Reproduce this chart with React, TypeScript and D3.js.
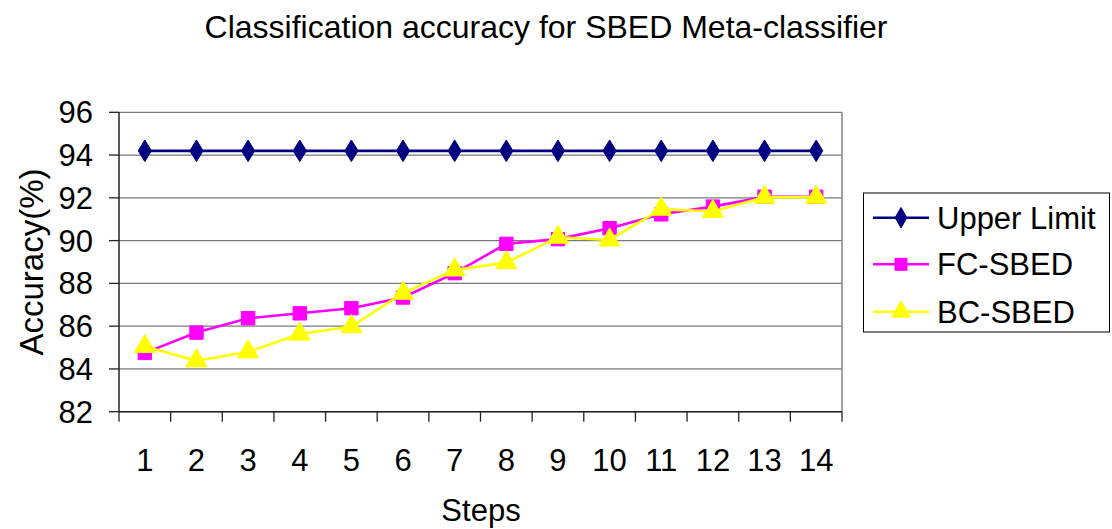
import React from "react";
import * as d3 from "d3";

// Accuracy (%) per selection step
const steps = [1, 2, 3, 4, 5, 6, 7, 8, 9, 10, 11, 12, 13, 14];
const upperLimit = [94.2, 94.2, 94.2, 94.2, 94.2, 94.2, 94.2, 94.2, 94.2, 94.2, 94.2, 94.2, 94.2, 94.2];
const fcSbed = [84.75, 85.7, 86.37, 86.6, 86.84, 87.34, 88.48, 89.85, 90.07, 90.58, 91.23, 91.59, 92.05, 92.05];
const bcSbed = [85.05, 84.38, 84.8, 85.63, 85.98, 87.54, 88.63, 88.97, 90.16, 90.03, 91.47, 91.36, 92.03, 92.03];
const yTicks = [82, 84, 86, 88, 90, 92, 94, 96];

const seriesNames = ["Upper Limit", "FC-SBED", "BC-SBED"];
const seriesColors = ["#000080", "#FF00FF", "#FFFF00"];
const seriesSymbols = [d3.symbolDiamond, d3.symbolSquare, d3.symbolTriangle];

const W = 1112;
const H = 529;
const plot = { left: 119, right: 842, top: 112.3, bottom: 411.7 };
const FONT = "'Liberation Sans', Arial, Helvetica, sans-serif";

function Txt({ x, y, size, anchor = "start", children, rotate = 0 }: any) {
  const tf = rotate ? `translate(${x},${y}) rotate(${rotate})` : `translate(${x},${y})`;
  return (
    <text transform={tf} fontFamily={FONT} fontSize={size} textAnchor={anchor} fill="#000">
      {children}
    </text>
  );
}

export default function App() {
  const x = d3.scaleBand<number>().domain(steps).range([plot.left, plot.right]);
  const y = d3.scaleLinear().domain([82, 96]).range([plot.bottom, plot.top]);
  const cx = (s: number) => (x(s) as number) + x.bandwidth() / 2;

  const line = d3
    .line<number>()
    .x((_, i) => cx(steps[i]))
    .y((v) => y(v));

  const data = [upperLimit, fcSbed, bcSbed];
  const symSizes = [150, 180, 190];
  const sym = (i: number) => d3.symbol().type(seriesSymbols[i]).size(symSizes[i])() as string;

  const boundaries = steps.map((s) => x(s) as number).concat([plot.right]);

  const legend = { x: 863.5, y: 193, w: 246, h: 139 };
  const legendRows = [217.7, 264.3, 311.7];

  return (
    <svg width={W} height={H} style={{ position: "absolute", left: 0, top: 0 }}>
      <rect width={W} height={H} fill="#fff" />

      {/* title */}
      <Txt x={546} y={38} size={32} anchor="middle">
        Classification accuracy for SBED Meta-classifier
      </Txt>

      {/* grid lines */}
      {yTicks.map((t) => (
        <line key={t} x1={plot.left} x2={plot.right} y1={y(t)} y2={y(t)} stroke="#7a7a7a" strokeWidth={1.3} />
      ))}
      {/* plot border (right) */}
      <line x1={plot.right} x2={plot.right} y1={plot.top} y2={plot.bottom} stroke="#8c8c8c" strokeWidth={1.6} />

      {/* axes */}
      <line x1={plot.left} x2={plot.left} y1={plot.top} y2={plot.bottom} stroke="#222" strokeWidth={1.5} />
      <line x1={plot.left} x2={plot.right} y1={plot.bottom} y2={plot.bottom} stroke="#222" strokeWidth={1.5} />
      {yTicks.map((t) => (
        <line key={"yt" + t} x1={plot.left - 10} x2={plot.left} y1={y(t)} y2={y(t)} stroke="#222" strokeWidth={1.3} />
      ))}
      {boundaries.map((b, i) => (
        <line key={"xt" + i} x1={b} x2={b} y1={plot.bottom} y2={plot.bottom + 10} stroke="#222" strokeWidth={1.3} />
      ))}

      {/* tick labels */}
      {yTicks.map((t) => (
        <Txt key={"yl" + t} x={93} y={y(t) + 11} size={31} anchor="end">
          {t}
        </Txt>
      ))}
      {steps.map((s) => (
        <Txt key={"xl" + s} x={cx(s)} y={471} size={31} anchor="middle">
          {s}
        </Txt>
      ))}

      {/* axis titles */}
      <Txt x={481} y={521} size={31} anchor="middle">
        Steps
      </Txt>
      <Txt x={43} y={262} size={33} anchor="middle" rotate={-90}>
        Accuracy(%)
      </Txt>

      {/* series */}
      {data.map((vals, i) => (
        <g key={seriesNames[i]}>
          <path d={line(vals) as string} fill="none" stroke={seriesColors[i]} strokeWidth={i === 0 ? 2.8 : 2.6} />
          {vals.map((v, j) => (
            <path
              key={j}
              d={sym(i)}
              transform={`translate(${cx(steps[j])},${y(v)})${i === 0 ? " scale(1,0.95)" : ""}`}
              fill={seriesColors[i]}
              stroke={seriesColors[i]}
              strokeWidth={1}
            />
          ))}
        </g>
      ))}

      {/* legend */}
      <rect x={legend.x} y={legend.y} width={legend.w} height={legend.h} fill="#fff" stroke="#000" strokeWidth={1} />
      {seriesNames.map((n, i) => (
        <g key={"lg" + n}>
          <line x1={873} x2={929} y1={legendRows[i]} y2={legendRows[i]} stroke={seriesColors[i]} strokeWidth={2.6} />
          <path
            d={d3.symbol().type(seriesSymbols[i]).size(symSizes[i] * 0.8)() as string}
            transform={`translate(901,${legendRows[i]})`}
            fill={seriesColors[i]}
            stroke={seriesColors[i]}
            strokeWidth={1}
          />
          <Txt x={937} y={legendRows[i] + 11} size={31}>
            {n}
          </Txt>
        </g>
      ))}
    </svg>
  );
}
